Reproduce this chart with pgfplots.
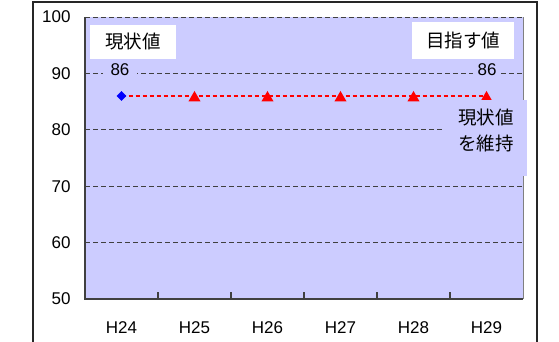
\documentclass[border=0pt]{standalone}
\usepackage{fontspec}
\setmainfont{Liberation Sans}
\newfontfamily\jp{Noto Sans CJK JP}
\usepackage{pgfplots}
\pgfplotsset{compat=1.18}
\definecolor{lav}{RGB}{204,204,255}
\definecolor{axgray}{RGB}{64,64,64}
\newcommand{\lbl}{\fontsize{17}{20}\selectfont}
\newcommand{\lblj}{\fontsize{18.5}{21}\selectfont}
\begin{document}
\begin{tikzpicture}[x=1pt,y=1pt]
\useasboundingbox (0,0) rectangle (559,342);
\fill[white] (0,0) rectangle (559,342);
\begin{axis}[
 at={(85pt,43pt)}, anchor=south west,
 scale only axis, width=438pt, height=282pt,
 xmin=-0.5, xmax=5.5, ymin=50, ymax=100,
 ytick={50,60,...,100},
 xtick={0,...,5}, xticklabels={H24,H25,H26,H27,H28,H29},
 axis background/.style={fill=lav},
 axis line style={draw=none},
 ymajorgrids, grid style={dash pattern=on 5pt off 3pt, axgray, line width=0.9pt},
 major tick length=0pt, tick pos=left,
 extra x ticks={0.5,1.5,2.5,3.5,4.5}, extra x tick labels={},
 extra x tick style={major tick length=7pt, tick align=inside, major tick style={draw=axgray, line width=1.2pt}},
 tick label style={font=\lbl},
 /pgf/number format/assume math mode=true,
 xticklabel style={yshift=-19pt},
 yticklabel style={xshift=-11pt},
 clip=false,
]
\addplot[red, line width=1.5pt, dash pattern=on 4pt off 3pt, mark=triangle*, mark size=5.5pt, mark indices={2,3,4,5,6}, mark options={solid, yshift=-2pt}] coordinates {(0,86)(1,86)(2,86)(3,86)(4,86)(5,86)};
\addplot[blue, only marks, mark=square*, mark size=3.2pt, mark options={rotate=45}] coordinates {(0,86)};
\draw[gray, line width=1pt] (rel axis cs:1,0) -- (rel axis cs:1,1);
\draw[axgray, line width=1.5pt] (rel axis cs:0,1) -- (rel axis cs:0,0) -- (rel axis cs:1,0);
\end{axis}
\node[fill=lav, inner xsep=8pt, inner ysep=1pt, font=\lbl] at (120,272) {86};
\node[fill=lav, inner xsep=5pt, inner ysep=1pt, font=\lbl] at (487,272) {86};
\fill[lav] (445,166) rectangle (527,242);
\node[font=\lblj\jp] at (486,224) {現状値};
\node[font=\lblj\jp] at (486,199) {を維持};
\node[fill=white, minimum width=86pt, minimum height=34pt, font=\lblj\jp] at (133,300) {現状値};
\node[fill=white, minimum width=102pt, minimum height=37pt, font=\lblj\jp] at (463,301.5) {目指す値};
\draw[line width=1.5pt, black!85] (33,-10) -- (33,340) -- (537,340) -- (537,-10);
\end{tikzpicture}
\end{document}
